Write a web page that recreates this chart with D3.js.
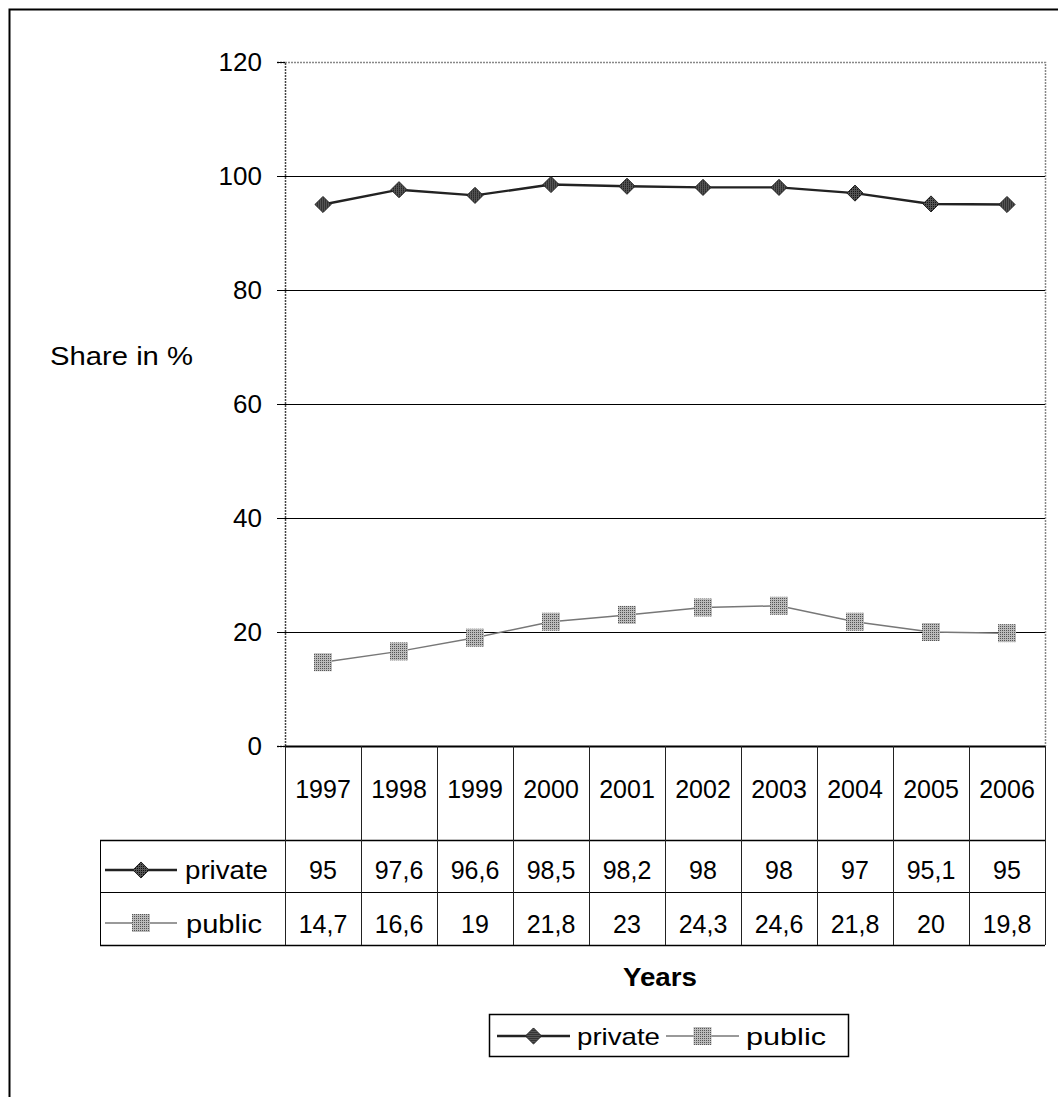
<!DOCTYPE html>
<html><head><meta charset="utf-8">
<script src="https://cdn.jsdelivr.net/npm/d3@7"></script>
<style>body{margin:0;background:#fff}svg{display:block;font-family:"Liberation Sans",Arial,sans-serif}</style>
</head><body>
<script>
const years = ["1997","1998","1999","2000","2001","2002","2003","2004","2005","2006"];
const privateValues = [95,97.6,96.6,98.5,98.2,98,98,97,95.1,95];
const publicValues = [14.7,16.6,19,21.8,23,24.3,24.6,21.8,20,19.8];
const privateLabels = ["95","97,6","96,6","98,5","98,2","98","98","97","95,1","95"];
const publicLabels = ["14,7","16,6","19","21,8","23","24,3","24,6","21,8","20","19,8"];
const yTicks = [0,20,40,60,80,100,120];

const W=1058,H=1097,FS=25;
const svg=d3.select("body").append("svg").attr("width",W).attr("height",H);
const L=285,R=1045,T=62,B=746;
const x=d3.scaleBand().domain(years).range([L,R]);
const y=d3.scaleLinear().domain([0,120]).range([B,T]);

svg.append("path").attr("d",`M9.5,${H} L9.5,9.5 L${W},9.5`).attr("fill","none").attr("stroke","#000").attr("stroke-width",2);

svg.append("path").attr("d",`M${L},${T+0.5} H${R+0.5} V${B}`).attr("fill","none").attr("stroke","#888").attr("stroke-width",1.5).attr("stroke-dasharray","2,1");
svg.append("g").selectAll("line").data(yTicks.filter(d=>d>0&&d<120)).join("line")
  .attr("x1",L).attr("x2",R).attr("y1",d=>Math.round(y(d))+0.5).attr("y2",d=>Math.round(y(d))+0.5)
  .attr("stroke","#000").attr("stroke-width",1);

const ya=svg.append("g").attr("transform",`translate(${L},0)`).call(d3.axisLeft(y).tickValues(yTicks).tickSize(8).tickPadding(15));
ya.select(".domain").attr("stroke","#444").attr("stroke-width",1.5).attr("stroke-dasharray","2,1");
ya.selectAll(".tick line").attr("stroke","#000");
ya.selectAll("text").attr("font-size",26).attr("font-family","Liberation Sans, Arial, sans-serif").attr("fill","#000");

function word(g,x0,y0,txt,len,opts={}){
  const t=g.append("text").attr("x",x0).attr("y",y0).attr("font-size",opts.fs||FS).text(txt)
    .attr("textLength",len).attr("lengthAdjust","spacingAndGlyphs");
  if(opts.bold) t.attr("font-weight","bold");
  return t;
}
word(svg,50,365,"Share in %",143);

const cx=d=>x(d)+x.bandwidth()/2;
const line=d3.line().x((d,i)=>cx(years[i])).y(d=>y(d));
svg.append("path").datum(publicValues).attr("d",line).attr("fill","none").attr("stroke","#777").attr("stroke-width",1.5);
svg.append("path").datum(privateValues).attr("d",line).attr("fill","none").attr("stroke","#222").attr("stroke-width",2.4);

const defs=svg.append("defs");
const p1=defs.append("pattern").attr("id","pd").attr("width",2).attr("height",2).attr("patternUnits","userSpaceOnUse");
p1.append("rect").attr("width",2).attr("height",2).attr("fill","#555");
p1.append("rect").attr("width",1).attr("height",1).attr("fill","#111");
const p2=defs.append("pattern").attr("id","ps").attr("width",2).attr("height",2).attr("patternUnits","userSpaceOnUse");
p2.append("rect").attr("width",2).attr("height",2).attr("fill","#bbb");
p2.append("rect").attr("width",1).attr("height",1).attr("fill","#555");

const sq=18;
svg.append("g").selectAll("rect").data(publicValues).join("rect")
  .attr("x",(d,i)=>cx(years[i])-sq/2).attr("y",d=>y(d)-sq/2).attr("width",sq).attr("height",sq).attr("fill","url(#ps)");
const diamond=d3.symbol().type(d3.symbolDiamond2).size(165);
svg.append("g").selectAll("path").data(privateValues).join("path")
  .attr("transform",(d,i)=>`translate(${cx(years[i])},${y(d)})`).attr("d",diamond).attr("fill","url(#pd)").attr("stroke","#222").attr("stroke-width",1);

const tg=svg.append("g");
tg.append("line").attr("x1",L).attr("x2",R).attr("y1",B+0.5).attr("y2",B+0.5).attr("stroke","#000").attr("stroke-width",2);
[840,892,945].forEach(yy=>tg.append("line").attr("x1",100).attr("x2",R).attr("y1",yy+0.5).attr("y2",yy+0.5).attr("stroke","#000").attr("stroke-width",yy===892?1:1.5));
tg.append("line").attr("x1",100.5).attr("x2",100.5).attr("y1",840).attr("y2",945).attr("stroke","#000");
years.concat(["end"]).forEach((yr,i)=>{
  const xx=i<years.length?x(yr):R;
  tg.append("line").attr("x1",Math.round(xx)+0.5).attr("x2",Math.round(xx)+0.5).attr("y1",B).attr("y2",945).attr("stroke","#222").attr("stroke-width",1);
});
tg.selectAll("text.yr").data(years).join("text").attr("class","yr").attr("x",d=>cx(d)).attr("y",798).attr("text-anchor","middle").attr("font-size",FS).text(d=>d);
tg.selectAll("text.pv").data(privateLabels).join("text").attr("class","pv").attr("x",(d,i)=>cx(years[i])).attr("y",879).attr("text-anchor","middle").attr("font-size",FS).text(d=>d);
tg.selectAll("text.pu").data(publicLabels).join("text").attr("class","pu").attr("x",(d,i)=>cx(years[i])).attr("y",933).attr("text-anchor","middle").attr("font-size",FS).text(d=>d);

function legendKey(g,x0,yc,kind,len){
  if(kind==="private"){
    g.append("line").attr("x1",x0).attr("x2",x0+len).attr("y1",yc).attr("y2",yc).attr("stroke","#222").attr("stroke-width",2.4);
    g.append("path").attr("transform",`translate(${x0+len/2},${yc})`).attr("d",diamond).attr("fill","url(#pd)").attr("stroke","#222");
  } else {
    g.append("line").attr("x1",x0).attr("x2",x0+len).attr("y1",yc).attr("y2",yc).attr("stroke","#777").attr("stroke-width",1.5);
    g.append("rect").attr("x",x0+len/2-sq/2).attr("y",yc-sq/2).attr("width",sq).attr("height",sq).attr("fill","url(#ps)");
  }
}
legendKey(tg,105,870,"private",72);
word(tg,185,879,"private",83);
legendKey(tg,105,923,"public",72);
word(tg,186,933,"public",76);

word(svg,623,986,"Years",74,{bold:true});

const lg=svg.append("g");
lg.append("rect").attr("x",489.5).attr("y",1014.5).attr("width",359).attr("height",42).attr("fill","#fff").attr("stroke","#000").attr("stroke-width",1.5);
legendKey(lg,497,1036,"private",73);
word(lg,577,1045,"private",83,{fs:24});
legendKey(lg,666,1036,"public",73);
word(lg,746,1045,"public",80,{fs:24});
</script>
</body></html>
